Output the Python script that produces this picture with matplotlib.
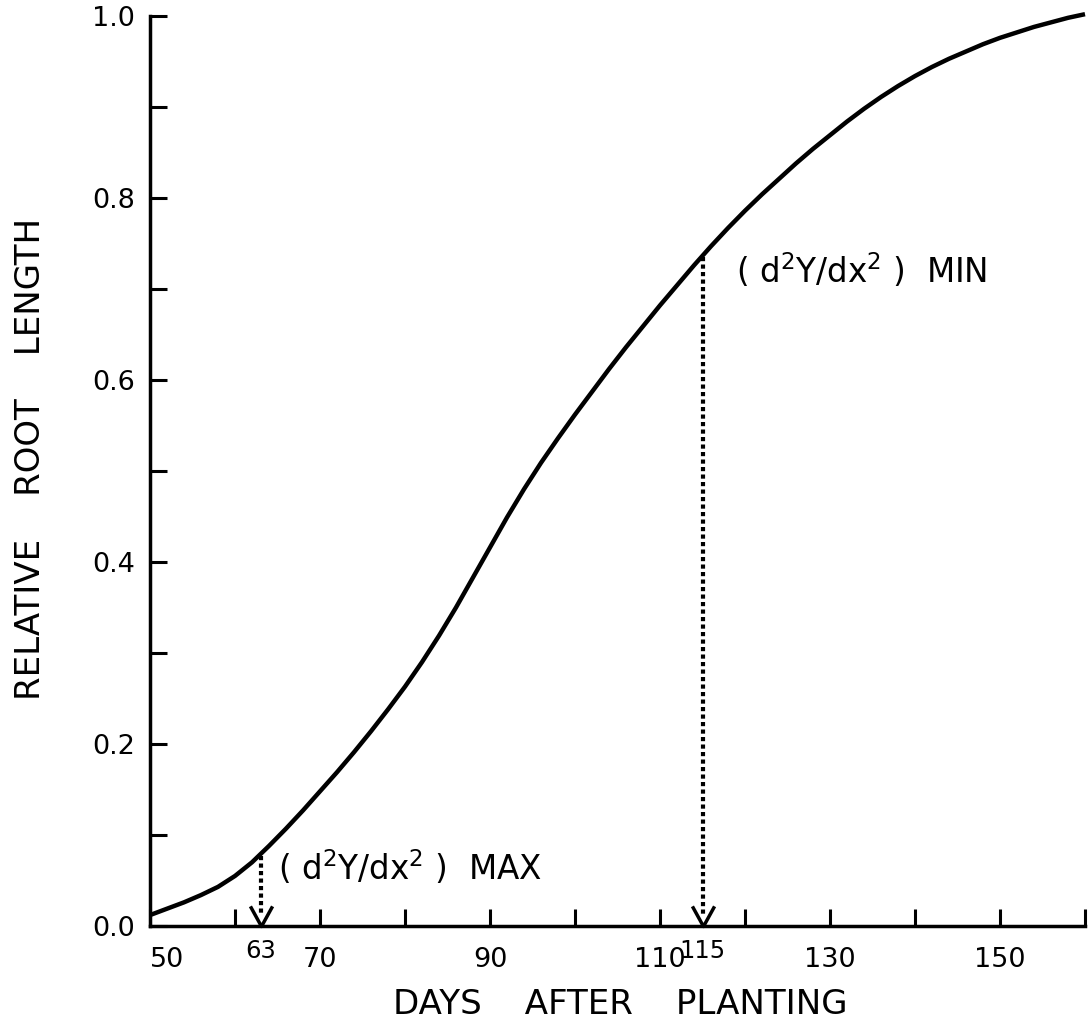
import matplotlib
matplotlib.use("Agg")
import matplotlib.pyplot as plt
import numpy as np

# relative root length, every 2 days
days = list(range(50, 161, 2))
rel_length = [0.012, 0.019, 0.026, 0.034, 0.043, 0.055, 0.070, 0.088, 0.107,
              0.127, 0.148, 0.169, 0.191, 0.214, 0.238, 0.263, 0.290, 0.319,
              0.350, 0.383, 0.416, 0.449, 0.480, 0.509, 0.536, 0.562, 0.587,
              0.612, 0.636, 0.659, 0.682, 0.704, 0.726, 0.747, 0.767, 0.786,
              0.804, 0.821, 0.838, 0.854, 0.869, 0.884, 0.898, 0.911, 0.923,
              0.934, 0.944, 0.953, 0.961, 0.969, 0.976, 0.982, 0.988, 0.993,
              0.998, 1.002]

# inflection markers: (day, value on curve, label)
marks = [(63, 0.077, "MAX"), (115, 0.735, "MIN")]
mark_text_pos = [(65.0, 0.0505), (118.9, 0.7066)]

x_major = [50, 70, 90, 110, 130, 150]
x_minor = [60, 80, 100, 120, 140, 160]
y_major = [0.0, 0.2, 0.4, 0.6, 0.8, 1.0]
y_minor = [0.1, 0.3, 0.5, 0.7, 0.9]

plt.rcParams["font.family"] = ["DejaVu Sans"]
plt.rcParams["mathtext.fontset"] = "dejavusans"

W, H = 1092, 1026
fig = plt.figure(figsize=(W / 100, H / 100), dpi=100)
ax = fig.add_axes([150 / W, 100 / H, 935 / W, 910 / H])

ax.plot(days, rel_length, color="black", lw=3.2, clip_on=False,
        solid_capstyle="butt", zorder=3)

vmark = [(-0.55, 1.0), (0.0, 0.0), (0.55, 1.0)]
for (d, v, tag), (tx, ty) in zip(marks, mark_text_pos):
    ax.plot([d, d], [v, 0.012], color="black", lw=3.0,
            linestyle=(0, (1, 0.8)), dash_capstyle="butt", clip_on=False)
    ax.plot([d], [0], marker=vmark, markersize=29, markerfacecolor="none",
            markeredgecolor="black", markeredgewidth=2.5, clip_on=False)
    ax.text(tx, ty, r"( d$^2$Y/dx$^2$ )  " + tag, fontsize=23.5, ha="left",
            va="baseline")
    ax.annotate(str(d), xy=(d, 0), xytext=(0, -9), textcoords="offset points",
                ha="center", va="top", fontsize=17.5)

ax.set_xlim(50, 160)
ax.set_ylim(0, 1.0)
ax.set_xticks(x_major)
ax.set_xticks(x_minor, minor=True)
ax.set_yticks(y_major)
ax.set_yticks(y_minor, minor=True)
ax.set_xticklabels([str(x) for x in x_major])
ax.set_yticklabels([f"{y:.1f}" for y in y_major])
ax.get_xticklabels()[0].set_horizontalalignment("left")

for side in ["top", "right"]:
    ax.spines[side].set_visible(False)
for side in ["left", "bottom"]:
    ax.spines[side].set_linewidth(2.5)

ax.tick_params(axis="both", which="both", direction="in", length=12,
               width=2.2, labelsize=19.5)
ax.tick_params(axis="x", which="major", pad=15)
ax.tick_params(axis="y", which="major", pad=11)

fig.text(620 / W, 1 - 1004 / H, "DAYS    AFTER    PLANTING", fontsize=24.5,
         ha="center", va="center")
fig.text(31 / W, 1 - 459 / H, "RELATIVE    ROOT    LENGTH", fontsize=24.5,
         ha="center", va="center", rotation=90)

fig.savefig("out.png", dpi=100, facecolor="white")
